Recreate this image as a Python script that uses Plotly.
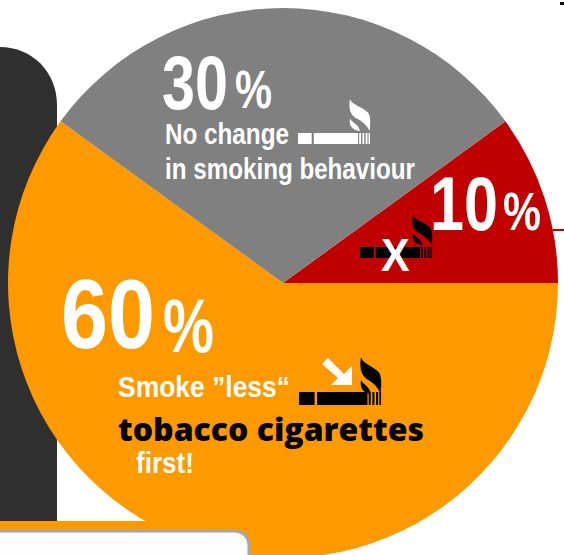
import json
import plotly.graph_objects as go

W, H = 564, 566

categories = ["Quit smoking", "Smoke less tobacco cigarettes first", "No change in smoking behaviour"]
shares = [10, 60, 30]
slice_colors = ["#c00000", "#ff9900", "#808080"]

NARROW = "Liberation Sans, Arial, sans-serif"
OPEN = "Open Sans, sans-serif"

# text, left x, y(centre), size, colour, family, weight, target width
labels = [
    ("30", 161, 82, 76, "white", NARROW, 700, 66),
    ("%", 234, 89, 54, "white", NARROW, 700, 37),
    ("No change", 164, 134, 29, "white", NARROW, 700, 124),
    ("in smoking behaviour", 164, 169, 29, "white", NARROW, 700, 250),
    ("10", 429, 203, 76, "white", NARROW, 700, 68),
    ("%", 502, 211, 54, "white", NARROW, 700, 38),
    ("60", 60, 314, 98, "white", NARROW, 700, 94),
    ("%", 162, 325, 76, "white", NARROW, 700, 51),
    ("Smoke ”less“", 117, 387, 29, "white", NARROW, 700, 172),
    ("tobacco cigarettes", 117, 428, 32, "black", OPEN, 800, 306),
    ("first!", 135, 463, 29, "white", NARROW, 700, 58),
    ("X", 380, 255, 46, "white", NARROW, 700, 29),
]


def px(x):
    return x / W


def py(y):
    return 1 - y / H


def rect(x0, y0, x1, y1, color, layer="above"):
    return dict(type="rect", xref="paper", yref="paper", x0=px(x0), x1=px(x1),
                y0=py(y0), y1=py(y1), fillcolor=color, line_width=0, layer=layer)


def path(d_pts, color, layer="above", **kw):
    d = ""
    for cmd, pts in d_pts:
        if cmd == "L":
            d += " ".join(f"L{px(a):.5f},{py(b):.5f}" for a, b in pts) + " "
        else:
            d += cmd + " ".join(f"{px(a):.5f},{py(b):.5f}" for a, b in pts) + " "
    line = kw.get("line", dict(width=0))
    return dict(type="path", xref="paper", yref="paper", path=d.strip() + " Z",
                fillcolor=color, line=line, layer=layer)


def cigarette(x0, y0, x1, y1, color):
    w = x1 - x0
    s = [
        rect(x0, y0, x0 + 0.19 * w, y1, color),
        rect(x0 + 0.22 * w, y0, x0 + 0.835 * w, y1, color),
    ]
    for a, b in [(0.85, 0.875), (0.895, 0.92), (0.94, 0.965), (0.98, 1.0)]:
        s.append(rect(x0 + a * w, y0, x0 + b * w, y1, color))
    return s


def smoke(x0, y0, x1, y1, color):
    w, h = x1 - x0, y1 - y0
    m = lambda a, b: (x0 + a * w, y0 + b * h)
    return [
        path([("M", [m(0, 0)]),
              ("C", [m(.08, .18), m(.55, .22), m(.9, .42)]),
              ("C", [m(1.05, .55), m(1.02, .8), m(.98, 1.0)]),
              ("C", [m(.85, .82), m(.6, .68), m(.3, .6)]),
              ("C", [m(-.02, .48), m(-.08, .25), m(0, 0)])], color),
        path([("M", [m(.0, .62)]),
              ("C", [m(.1, .74), m(.42, .78), m(.5, 1.0)]),
              ("C", [m(.25, 1.0), m(-.1, .88), m(.0, .62)])], color),
    ]


shapes = [
    path([("M", [(0, 47)]), ("C", [(32, 47), (57, 72), (57, 105)]),
          ("L", [(57, 521), (0, 521)])], "#2f2f2f", layer="below"),
    rect(553, 229, 564, 231, "#c00000", layer="below"),
    rect(560, 2, 564, 5, "#111111", layer="below"),
    rect(0, 521, 252, 531, "#ff9900"),
    path([("M", [(-5, 531)]), ("L", [(234, 531)]), ("C", [(243, 531), (249, 537), (249, 546)]),
          ("L", [(249, 570), (-5, 570)])], "#fdfdfd",
         line=dict(color="#a6a6a6", width=3)),
]
shapes += cigarette(298, 133, 370, 144, "white") + smoke(350, 99, 370, 131, "white")
shapes += cigarette(360, 247, 432, 258, "black") + smoke(413, 215, 432, 245, "black")
shapes += cigarette(299, 392, 381, 405, "black") + smoke(361, 357, 381, 394, "black")
shapes.append(path([("M", [(328, 358)]),
                    ("L", [(344, 374), (352, 366), (352, 385), (331, 385), (338, 378), (322, 364)])],
                   "white"))

annotations = [
    dict(text=t, x=px(x), y=py(y), xref="paper", yref="paper", xanchor="left", yanchor="middle",
         showarrow=False, font=dict(size=s, color=c, family=f, weight=wg), borderpad=0)
    for t, x, y, s, c, f, wg, tw in labels
]

fig = go.Figure(go.Pie(
    labels=categories,
    values=shares,
    sort=False,
    direction="clockwise",
    rotation=54,
    marker=dict(colors=slice_colors, line=dict(width=0)),
    textinfo="none",
    hoverinfo="skip",
    domain=dict(x=[px(8), px(558)], y=[py(558), py(8)]),
    showlegend=False,
))
fig.update_layout(
    width=W, height=H, margin=dict(l=0, r=0, t=0, b=0),
    paper_bgcolor="white", shapes=shapes, annotations=annotations,
)

widths = json.dumps([row[7] for row in labels])
post = """
document.body.style.margin='0';
document.documentElement.style.overflow='hidden';
document.body.style.overflow='hidden';
var targets = %s;
var nodes = document.querySelectorAll('.annotation-text');
nodes.forEach(function(t, i) {
  var b = t.getBBox();
  var k = targets[i] / b.width;
  t.setAttribute('transform', 'translate(' + b.x + ',0) scale(' + k + ',1) translate(' + (-b.x) + ',0)');
});
""" % widths
fig.write_html("out.html", config=dict(displayModeBar=False), post_script=post)
